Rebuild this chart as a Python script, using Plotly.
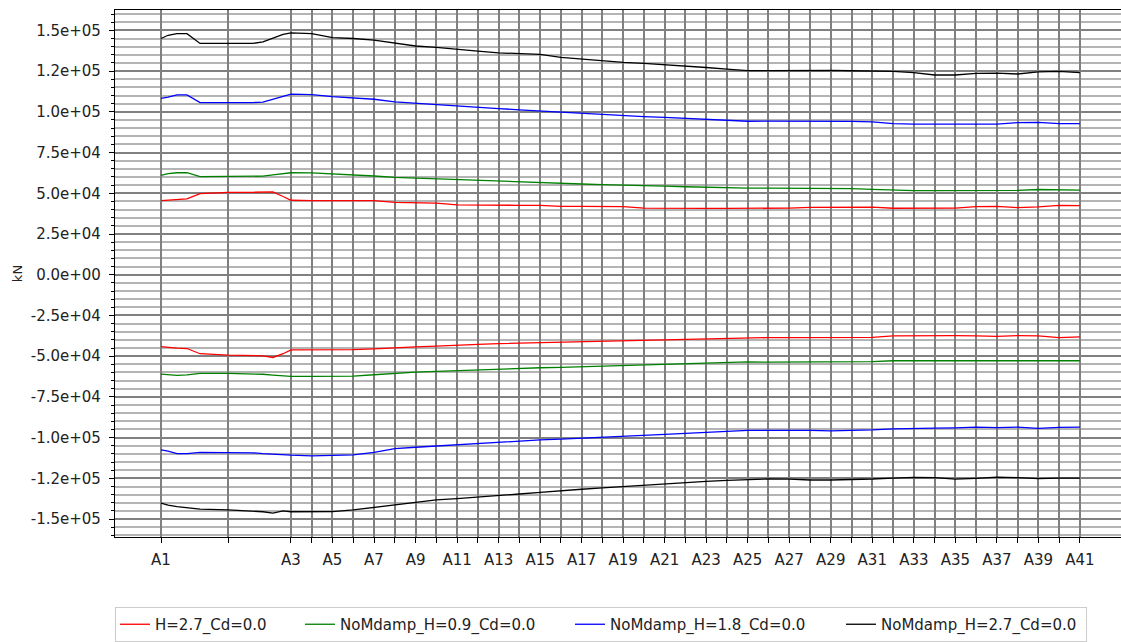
import plotly.graph_objects as go

# Station names and their chainage (in station-spacing units, A1 = 0)
stations = [f"A{i}" for i in range(1, 42)]
station_pos = [0.0, 3.23, 6.26] + [6.26 + k for k in range(1, 39)]

# Sampling positions along the line (same units as station_pos)
sample_pos = [0.0, 0.34, 0.77, 1.25, 1.88, 3.23, 4.43, 4.91, 5.39, 5.88] + \
             [6.26 + k for k in range(0, 39)]

# Envelope values in kN·1e3 (upper / lower) per case
h27_max = [45.5, 45.8, 46.1, 46.5, 49.8, 50.5, 50.6, 50.8, 50.8, 48.0,
           45.7, 45.5, 45.5, 45.5, 45.5, 44.4, 44.3, 44.0, 42.9, 42.7,
           42.7, 42.6, 42.6, 41.9, 41.9, 41.9, 41.8, 40.9, 40.7, 40.7,
           40.7, 40.7, 40.7, 40.7, 40.9, 41.3, 41.5, 41.5, 41.5, 40.8,
           40.7, 40.7, 40.9, 41.8, 41.9, 41.2, 41.6, 42.6, 42.4]
h27_min = [-44.1, -44.6, -45.0, -45.3, -48.5, -49.4, -49.5, -49.8, -50.8, -48.5,
           -46.1, -46.1, -46.0, -46.0, -45.5, -45.1, -44.3, -43.8, -43.1, -42.7,
           -42.3, -42.0, -41.7, -41.5, -41.3, -41.0, -40.6, -40.4, -40.2, -39.9,
           -39.6, -39.2, -38.6, -38.6, -38.6, -38.6, -38.6, -38.6, -38.4, -37.6,
           -37.4, -37.4, -37.4, -37.6, -37.8, -37.4, -37.6, -38.6, -38.2]

nm09_max = [61.0, 62.0, 62.6, 62.6, 60.2, 60.2, 60.2, 60.5, 61.3, 62.2,
            62.6, 62.5, 62.0, 61.5, 60.6, 59.8, 59.3, 59.0, 58.4, 57.9,
            57.6, 57.1, 56.6, 56.1, 55.7, 55.3, 55.1, 54.9, 54.4, 54.0,
            53.6, 53.2, 53.1, 53.2, 53.2, 53.2, 53.2, 52.8, 52.4, 51.8,
            51.6, 51.6, 51.6, 51.6, 51.7, 51.8, 52.3, 52.1, 51.9]
nm09_min = [-61.0, -61.5, -61.8, -61.5, -60.5, -60.6, -60.8, -61.1, -61.6, -62.0,
            -62.4, -62.4, -62.4, -62.2, -61.4, -60.4, -59.8, -59.3, -58.8, -58.3,
            -57.9, -57.5, -57.1, -56.9, -56.5, -56.1, -55.7, -55.3, -54.9, -54.5,
            -54.1, -53.7, -53.5, -53.7, -53.7, -53.7, -53.7, -53.6, -53.3, -52.8,
            -52.8, -52.8, -52.6, -52.4, -52.7, -52.8, -52.8, -52.8, -52.8]

nm18_max = [108.3, 109.0, 110.4, 110.4, 105.7, 105.6, 105.7, 106.0, 107.5, 109.5,
            110.8, 110.6, 109.3, 108.5, 107.7, 106.1, 105.2, 104.3, 103.6, 102.8,
            102.0, 101.2, 100.5, 99.8, 99.0, 98.2, 97.6, 97.1, 96.6, 96.1,
            95.3, 94.7, 94.2, 94.3, 94.3, 94.4, 94.4, 94.1, 93.8, 92.8,
            92.5, 92.5, 92.6, 92.5, 92.5, 93.4, 93.5, 92.8, 92.7]
nm18_min = [-107.5, -108.3, -109.8, -109.8, -109.1, -109.1, -109.3, -109.8, -110.3, -110.6,
            -110.8, -111.2, -111.0, -110.6, -109.0, -106.7, -105.9, -105.1, -104.4, -103.7,
            -102.8, -102.0, -101.4, -100.9, -100.4, -99.9, -99.4, -98.7, -98.0, -97.4,
            -96.8, -96.2, -95.5, -95.5, -95.3, -95.5, -95.8, -95.6, -95.2, -94.6,
            -94.2, -94.2, -94.0, -93.6, -93.9, -93.5, -94.3, -93.7, -93.6]

nm27_max = [145.0, 147.0, 148.0, 148.0, 142.0, 141.8, 142.0, 143.0, 145.0, 147.5,
            148.4, 148.0, 145.5, 145.0, 144.0, 142.0, 140.4, 139.5, 138.2, 137.3,
            136.2, 135.6, 135.2, 133.4, 132.3, 131.3, 130.4, 129.7, 129.0, 128.2,
            127.2, 126.2, 125.3, 125.3, 125.4, 125.4, 125.5, 125.2, 125.2, 124.8,
            124.0, 122.6, 122.6, 123.6, 123.8, 123.2, 124.5, 124.8, 124.1]
nm27_min = [-140.2, -141.5, -142.4, -143.0, -143.9, -144.3, -144.9, -145.5, -146.3, -145.0,
            -145.5, -145.6, -145.4, -144.4, -142.8, -141.0, -139.6, -138.2, -137.4, -136.6,
            -135.7, -134.6, -133.6, -132.5, -131.7, -130.9, -130.0, -129.1, -128.3, -127.4,
            -126.8, -126.2, -125.8, -125.4, -125.5, -126.0, -126.0, -125.9, -125.4, -124.8,
            -124.4, -124.6, -125.5, -125.0, -124.3, -124.6, -125.2, -124.9, -124.9]

case_names = ["H=2.7_Cd=0.0", "NoMdamp_H=0.9_Cd=0.0",
              "NoMdamp_H=1.8_Cd=0.0", "NoMdamp_H=2.7_Cd=0.0"]
case_colors = ["#ff0000", "#008000", "#0000ff", "#000000"]
case_max = [h27_max, nm09_max, nm18_max, nm27_max]
case_min = [h27_min, nm09_min, nm18_min, nm27_min]
# legend entry widths (px) so the entries spread across the box
legend_widths = [140, 225, 226, 200]

# y ticks every 25e3, labelled in scientific notation
y_ticks = [-150000, -125000, -100000, -75000, -50000, -25000, 0,
           25000, 50000, 75000, 100000, 125000, 150000]
y_ticktext = [f"{v:.1e}" for v in y_ticks]
x_ticktext = [s if i % 2 == 0 else "" for i, s in enumerate(stations)]

fig = go.Figure()
for name, color, vmax, vmin, lw in zip(case_names, case_colors, case_max,
                                      case_min, legend_widths):
    for j, vals in enumerate((vmax, vmin)):
        fig.add_trace(go.Scatter(
            x=sample_pos, y=[v * 1000 for v in vals], mode="lines",
            name=name, legendgroup=name, showlegend=(j == 0),
            legendwidth=lw,
            line=dict(color=color, width=1.3),
        ))

font = "DejaVu Sans"
tick_color = "#222222"
fig.update_layout(
    width=1121, height=642,
    margin=dict(l=115, r=0, t=10, b=101),
    paper_bgcolor="white", plot_bgcolor="white",
    font=dict(family=font, size=15, color=tick_color),
    showlegend=True,
    legend=dict(
        orientation="h", x=0.0, xanchor="left", y=-0.133, yanchor="top",
        bordercolor="#cccccc", borderwidth=1, bgcolor="white",
        font=dict(family=font, size=15, color=tick_color),
        itemwidth=30, tracegroupgap=0,
    ),
)
fig.update_xaxes(
    range=[-2.216, 46.24],
    tickmode="array", tickvals=station_pos, ticktext=x_ticktext,
    ticks="outside", ticklen=5, tickwidth=1, tickcolor="black",
    ticklabelstandoff=4,
    showgrid=True, gridcolor="#808080", gridwidth=1.5,
    showline=True, linecolor="black", linewidth=1.2, mirror=True,
    zeroline=False,
    tickfont=dict(family=font, size=15, color=tick_color),
)
fig.update_yaxes(
    range=[-161000, 162500],
    tickmode="array", tickvals=y_ticks, ticktext=y_ticktext,
    ticks="outside", ticklen=5, tickwidth=1, tickcolor="black",
    ticklabelstandoff=5,
    showgrid=True, gridcolor="#808080", gridwidth=1.5,
    minor=dict(tickmode="linear", tick0=0, dtick=5000, ticks="outside",
               ticklen=3, tickcolor="black", showgrid=True,
               gridcolor="#b4b4b4", gridwidth=1.5),
    showline=True, linecolor="black", linewidth=1.2,
    zeroline=False,
    title=dict(text="kN", font=dict(family=font, size=13, color=tick_color), standoff=5),
    tickfont=dict(family=font, size=15, color=tick_color),
)

fig.write_html("out.html")
